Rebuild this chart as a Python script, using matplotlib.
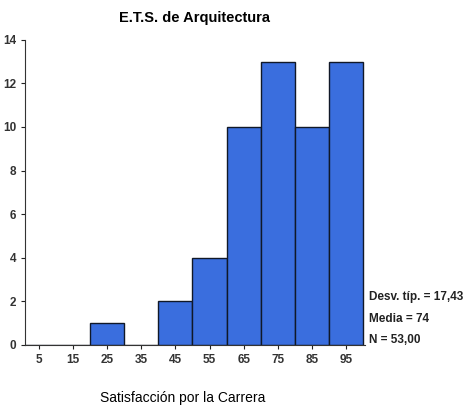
import matplotlib
matplotlib.use("Agg")
import matplotlib.pyplot as plt

plt.rcParams['font.family'] = ['Liberation Sans', 'DejaVu Sans']

bin_centers = [5, 15, 25, 35, 45, 55, 65, 75, 85, 95]
counts = [0, 0, 1, 0, 2, 4, 10, 13, 10, 13]
x_ticks = [5, 15, 25, 35, 45, 55, 65, 75, 85, 95]
y_ticks = [0, 2, 4, 6, 8, 10, 12, 14]
title = "E.T.S. de Arquitectura"
xlabel = "Satisfacción por la Carrera"
stats = ["Desv. típ. = 17,43", "Media = 74", "N = 53,00"]

fig = plt.figure(figsize=(4.74, 4.11), dpi=100)
ax = fig.add_axes([0.053, 0.161, 0.717, 0.742])
ax.bar(bin_centers, counts, width=10, color='#3a6ede', edgecolor='#101828', linewidth=1.0)
ax.set_xlim(1, 100.5)
ax.set_ylim(0, 14)
ax.set_xticks(x_ticks)
ax.set_yticks(y_ticks)
ax.tick_params(axis='both', labelsize=8.5, length=3, width=0.8, colors='#222222')
for lab in ax.get_xticklabels() + ax.get_yticklabels():
    lab.set_fontweight('bold')
    lab.set_color('#333333')
ax.spines['top'].set_visible(False)
ax.spines['right'].set_visible(False)
ax.spines['left'].set_color('#333333')
ax.spines['bottom'].set_color('#333333')

fig.text(0.411, 0.955, title, ha='center', va='center', fontsize=10.5, fontweight='bold')
fig.text(0.386, 0.032, xlabel, ha='center', va='center', fontsize=10)
for i, s in enumerate(stats):
    fig.text(0.778, 0.277 - i * 0.052, s, ha='left', va='center', fontsize=8.5, fontweight='bold', color='#222222')

fig.savefig("out.png", dpi=100)
